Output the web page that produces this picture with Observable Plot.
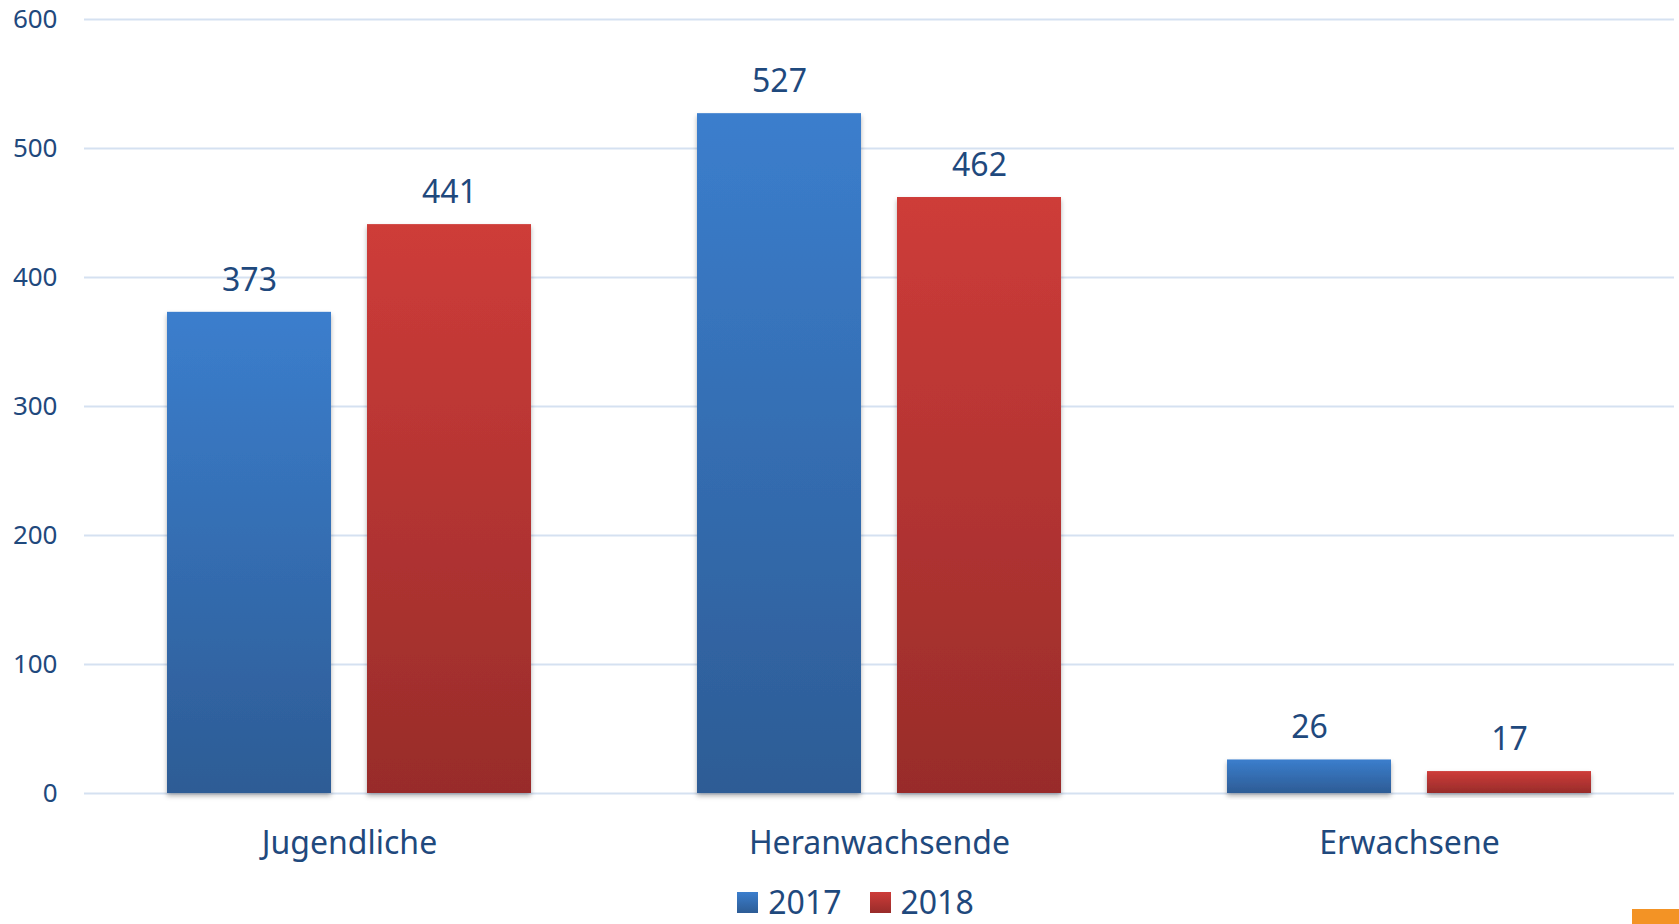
<!DOCTYPE html>
<html><head><meta charset="utf-8">
<script src="https://cdn.jsdelivr.net/npm/d3@7"></script>
<script src="https://cdn.jsdelivr.net/npm/@observablehq/plot@0.6"></script>
<style>
html,body{margin:0;padding:0;background:#fff;}
body{width:1679px;height:924px;overflow:hidden;position:relative;font-family:"Noto Sans",sans-serif;color:#1f497d;}
#legend{position:absolute;left:0;top:882px;width:1679px;height:40px;display:flex;justify-content:center;align-items:center;padding-left:32px;box-sizing:border-box;font-size:32px;line-height:32px;}
.item{display:flex;align-items:center;margin:0 14px;}
.sw{width:21px;height:21px;margin-right:10px;}
#logo{position:absolute;left:1632px;top:909px;width:47px;height:15px;background:#f39325;}
</style>
</head><body>
<div id="chart"></div>
<div id="legend"></div>
<div id="logo"></div>
<script>
const categories = ["Jugendliche", "Heranwachsende", "Erwachsene"];
const years = ["2017", "2018"];
const values2017 = [373, 527, 26];
const values2018 = [441, 462, 17];
const yTicks = [0, 100, 200, 300, 400, 500, 600];
const gradients = {
  "2017": ["#3b7ecd", "#2d5c95"],
  "2018": ["#ce3c39", "#982c2a"]
};
const textColor = "#1f497d";

const data = categories.flatMap((c, i) => [
  {category: c, year: "2017", value: values2017[i]},
  {category: c, year: "2018", value: values2018[i]}
]);

const chart = Plot.plot({
  width: 1679,
  height: 880,
  marginTop: 19,
  marginBottom: 87,
  marginLeft: 84,
  marginRight: 5,
  style: {fontFamily: "Noto Sans", color: textColor, background: "white"},
  fx: {domain: categories, padding: 0, label: null},
  x: {domain: years, paddingInner: 0.18, paddingOuter: 0.415, axis: null},
  y: {domain: [0, 600], label: null},
  marks: [
    Plot.gridY(yTicks, {stroke: "#d5e1f1", strokeOpacity: 1, strokeWidth: 2}),
    Plot.axisY(yTicks, {tickSize: 0, tickPadding: 27, fontSize: 26, label: null, fill: textColor}),
    Plot.axisFx({anchor: "bottom", tickSize: 0, tickPadding: 38, fontSize: 32, label: null, fill: textColor}),
    Plot.barY(data.filter(d => d.year === "2017"), {fx: "category", x: "year", y: "value", fill: "url(#g2017)"}),
    Plot.barY(data.filter(d => d.year === "2018"), {fx: "category", x: "year", y: "value", fill: "url(#g2018)"}),
    Plot.text(data, {fx: "category", x: "year", y: "value", text: d => String(d.value), dy: -32, fontSize: 32, fill: textColor})
  ]
});

const svg = d3.select(chart);
const defs = svg.insert("defs", ":first-child");
for (const y of years) {
  const g = defs.append("linearGradient").attr("id", "g" + y).attr("x1", 0).attr("y1", 0).attr("x2", 0).attr("y2", 1);
  g.append("stop").attr("offset", "0%").attr("stop-color", gradients[y][0]);
  g.append("stop").attr("offset", "100%").attr("stop-color", gradients[y][1]);
}
const f = defs.append("filter").attr("id", "shadow").attr("x", "-10%").attr("y", "-10%").attr("width", "120%").attr("height", "130%");
f.append("feDropShadow").attr("dx", 0).attr("dy", 3).attr("stdDeviation", 2.5).attr("flood-color", "#000").attr("flood-opacity", 0.3);
svg.selectAll("g[aria-label='bar'] rect").attr("filter", "url(#shadow)");

document.getElementById("chart").appendChild(chart);

const legend = document.getElementById("legend");
for (const y of years) {
  const item = document.createElement("div");
  item.className = "item";
  const sw = document.createElement("div");
  sw.className = "sw";
  sw.style.background = `linear-gradient(${gradients[y][0]}, ${gradients[y][1]})`;
  const t = document.createElement("span");
  t.textContent = y;
  item.appendChild(sw);
  item.appendChild(t);
  legend.appendChild(item);
}
</script>
</body></html>
